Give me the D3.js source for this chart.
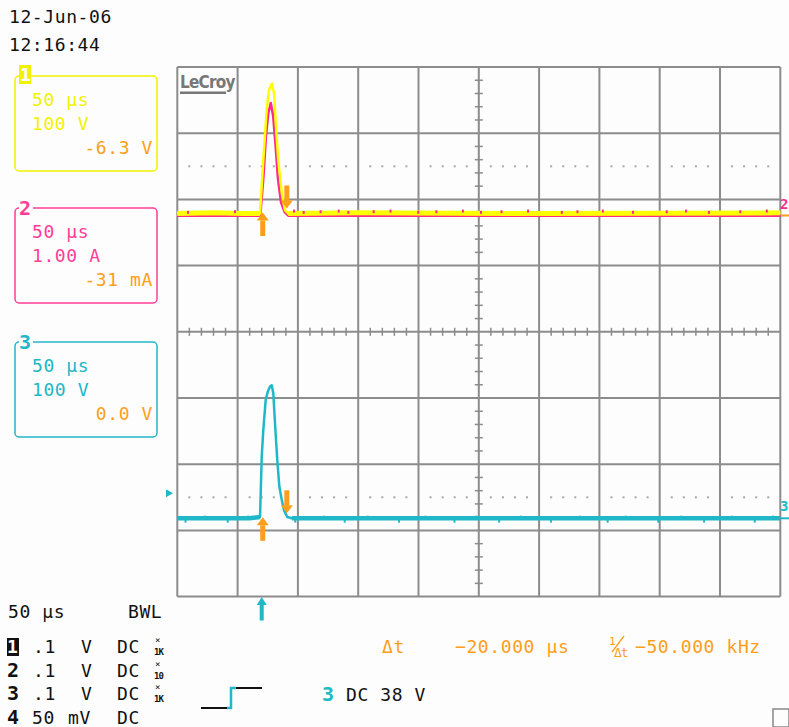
<!DOCTYPE html>
<html>
<head>
<meta charset="utf-8">
<script src="https://cdn.jsdelivr.net/npm/d3@7"></script>
<style>
  body { margin: 0; background: #fdfdfd; }
  svg { display: block; }
  text { font-family: "DejaVu Sans Mono", monospace; font-size: 18px; letter-spacing: 0.6px; }
</style>
</head>
<body>
<script>
// ---- data ----
// time in microseconds, ch1/ch3 in volts, ch2 in amps
const ch1Trace = [[0, 0], [30, 1], [55, 0], [68.6, 0], [71.3, 81], [74.1, 156], [76.0, 187], [78.3, 196],
  [80.2, 182], [81.8, 131], [83.7, 81], [86.6, 31], [89.3, 5], [92.0, 0], [150, 1], [300, 0], [500, 1]];
const ch2Trace = [[0, 0], [68.8, 0], [71.5, 0.6], [73.5, 1.2], [75.5, 1.55], [77.5, 1.7], [79.5, 1.5],
  [81.5, 1.05], [83.5, 0.55], [86, 0.2], [89, 0.05], [92, 0], [500, 0]];
const ch3Trace = [[0, 0], [60, 0], [68.6, 2], [70, 93], [71.3, 133], [73.3, 179], [75, 191], [76.9, 199],
  [78.3, 201], [79.6, 189], [81, 144], [82.9, 88], [84.6, 48], [86.6, 28], [88.5, 12], [91.2, 2], [95, 0], [500, 0]];
// little noise specks seen along the flat parts
const ch2Specks = [8, 47, 96, 104, 118, 133, 141, 162, 176, 199, 214, 236, 251, 268, 290, 318, 331, 352, 377, 405, 421, 440, 466, 488];
const ch3Specks = [6, 22, 41, 58, 97, 121, 138, 157, 183, 205, 229, 247, 266, 284, 309, 333, 356, 371, 398, 417, 436, 459, 478, 493];
const pulseWindow = [69, 91.5];
const cursorTimes = [70, 90];
const triggerTime = 70;
const triggerLevel = 38;

const channelBoxes = [
  { label: "1", color: "#f2f200", lines: ["50 μs", "100 V"], offset: "-6.3 V" },
  { label: "2", color: "#ff3d96", lines: ["50 μs", "1.00 A"], offset: "-31 mA" },
  { label: "3", color: "#22b6c6", lines: ["50 μs", "100 V"], offset: "0.0 V" }
];
const setupRows = [
  { ch: "1", val: ".1", unit: "V", cpl: "DC", probe: "1K" },
  { ch: "2", val: ".1", unit: "V", cpl: "DC", probe: "10" },
  { ch: "3", val: ".1", unit: "V", cpl: "DC", probe: "1K" },
  { ch: "4", val: "50", unit: "mV", cpl: "DC", probe: "" }
];

const W = 789, H = 727;
const YELLOW = "#ffff00", PINK = "#ff2a8a", CYAN = "#20b8c8", ORANGE = "#ff9e1b", GRID = "#8c8c8c";

const svg = d3.select("body").append("svg").attr("width", W).attr("height", H);

// screen scales
const gx = d3.scaleLinear().domain([0, 10]).range([177.3, 780.3]);
const gy = d3.scaleLinear().domain([0, 8]).range([67, 596.6]);
const x = d3.scaleLinear().domain([0, 500]).range([177.3, 780.3]);
const y1 = d3.scaleLinear().domain([0, 100]).range([213.5, 147.3]);
const y2 = d3.scaleLinear().domain([0, 1]).range([215.5, 149.3]);
const y3 = d3.scaleLinear().domain([0, 100]).range([518.3, 452.1]);

// grid
const grid = svg.append("g").attr("stroke", GRID).attr("stroke-width", 2);
grid.selectAll("line.v").data(d3.range(0, 11)).enter().append("line")
  .attr("x1", d => gx(d)).attr("x2", d => gx(d)).attr("y1", gy(0)).attr("y2", gy(8));
grid.selectAll("line.h").data(d3.range(0, 9)).enter().append("line")
  .attr("y1", d => gy(d)).attr("y2", d => gy(d)).attr("x1", gx(0)).attr("x2", gx(10));

// center cross minor ticks
const minorX = d3.range(0, 50).map(i => i * 0.2).filter(d => Math.abs(d - Math.round(d)) > 0.01);
const minorY = d3.range(0, 40).map(i => i * 0.2).filter(d => Math.abs(d - Math.round(d)) > 0.01);
grid.selectAll("line.tx").data(minorX).enter().append("line").attr("stroke-width", 1.5)
  .attr("x1", d => gx(d)).attr("x2", d => gx(d)).attr("y1", gy(4) - 4).attr("y2", gy(4) + 4);
grid.selectAll("line.ty").data(minorY).enter().append("line").attr("stroke-width", 1.5)
  .attr("y1", d => gy(d)).attr("y2", d => gy(d)).attr("x1", gx(5) - 4).attr("x2", gx(5) + 4);

// dotted rows
[1.5, 6.5].forEach(r => {
  svg.append("g").selectAll("rect").data(minorX).enter().append("rect")
    .attr("x", d => gx(d) - 1).attr("y", gy(r) - 1).attr("width", 2).attr("height", 2).attr("fill", "#a8a8a8");
});

// LeCroy logo
svg.append("text").attr("x", 180).attr("y", 88).attr("fill", "#777")
  .style("font-family", "'DejaVu Sans Condensed', sans-serif").style("font-weight", "bold")
  .style("font-size", "17px").style("letter-spacing", "-0.8px").text("LeCroy");
svg.append("rect").attr("x", 180).attr("y", 91.5).attr("width", 46).attr("height", 2.5).attr("fill", "#777");

// traces: thin line for the pulse, a thicker band where the noisy baseline sits
const lineOf = ys => d3.line().x(d => x(d[0])).y(d => ys(d[1]));
const flat = tr => [tr.filter(d => d[0] <= pulseWindow[0]), tr.filter(d => d[0] >= pulseWindow[1])];
function drawTrace(tr, ys, color, thin, thick) {
  svg.append("path").datum(tr).attr("d", lineOf(ys)).attr("fill", "none")
    .attr("stroke", color).attr("stroke-width", thin).attr("stroke-linejoin", "round");
  flat(tr).forEach(seg => {
    svg.append("path").datum(seg).attr("d", lineOf(ys)).attr("fill", "none")
      .attr("stroke", color).attr("stroke-width", thick);
  });
}
drawTrace(ch2Trace, y2, PINK, 2.5, 3);
drawTrace(ch1Trace, y1, YELLOW, 2.5, 5);
svg.append("g").selectAll("rect").data(ch2Specks).enter().append("rect")
  .attr("x", d => x(d)).attr("y", (d, i) => y2(0.07 + (i % 3) * 0.01)).attr("width", 2).attr("height", 3).attr("fill", PINK);
drawTrace(ch3Trace, y3, CYAN, 2.5, 4.5);
svg.append("g").selectAll("rect").data(ch3Specks).enter().append("rect")
  .attr("x", d => x(d)).attr("y", (d, i) => y3(i % 2 ? 4 : -2)).attr("width", 2).attr("height", 3).attr("fill", CYAN);

// arrows
function arrow(cx, tipY, dir, color, shaft, headW) {
  // dir = -1 up arrow (tip on top), +1 down arrow (tip at bottom)
  const len = 23, head = 8;
  const tail = tipY - dir * len;
  const g = svg.append("g").attr("fill", color);
  g.append("rect").attr("x", cx - shaft / 2).attr("width", shaft)
    .attr("y", Math.min(tail, tipY - dir * head)).attr("height", len - head + 0.5);
  g.append("path").attr("d", `M${cx - headW / 2},${tipY - dir * head} L${cx + headW / 2},${tipY - dir * head} L${cx},${tipY} Z`);
}
[y1, y3].forEach(ys => {
  arrow(x(cursorTimes[0]) + 1, ys(0) - 1, -1, ORANGE, 5, 12);
  arrow(x(cursorTimes[1]) + 1, ys(0) - 5, 1, ORANGE, 5, 12);
});
arrow(x(triggerTime), 597, -1, CYAN, 4, 10);

// trigger level marker (left) and channel markers (right)
const ty = y3(triggerLevel);
svg.append("path").attr("d", `M166,${ty - 4} L173,${ty} L166,${ty + 4} Z`).attr("fill", CYAN);
svg.append("text").attr("x", 780).attr("y", y2(0) - 7).attr("fill", PINK).style("font-weight", "bold").style("font-size", "14px").text("2");
svg.append("line").attr("x1", 781).attr("x2", 789).attr("y1", y2(0)).attr("y2", y2(0)).attr("stroke", ORANGE).attr("stroke-width", 2);
svg.append("text").attr("x", 780).attr("y", y3(0) - 7).attr("fill", CYAN).style("font-weight", "bold").style("font-size", "14px").text("3");
svg.append("line").attr("x1", 781).attr("x2", 789).attr("y1", y3(0)).attr("y2", y3(0)).attr("stroke", CYAN).attr("stroke-width", 2);

// date / time
svg.append("text").attr("x", 9).attr("y", 23).attr("fill", "#111").text("12-Jun-06");
svg.append("text").attr("x", 9).attr("y", 51).attr("fill", "#111").text("12:16:44");

// channel boxes
const boxTops = [76, 208, 342];
channelBoxes.forEach((b, i) => {
  const top = boxTops[i];
  const g = svg.append("g");
  g.append("rect").attr("x", 15).attr("y", top).attr("width", 142).attr("height", 95)
    .attr("rx", 4).attr("fill", "none").attr("stroke", b.color).attr("stroke-width", 1.5);
  if (i === 0) {
    g.append("rect").attr("x", 19).attr("y", top - 11).attr("width", 12).attr("height", 19).attr("fill", b.color);
    g.append("text").attr("x", 20).attr("y", top + 5).attr("fill", "#fdfdfd").style("font-weight", "bold").text(b.label);
  } else {
    g.append("rect").attr("x", 19).attr("y", top - 4).attr("width", 14).attr("height", 8).attr("fill", "#fdfdfd");
    g.append("text").attr("x", 19).attr("y", top + 7).attr("fill", b.color)
      .style("font-weight", "bold").style("font-size", "20px").text(b.label);
  }
  b.lines.forEach((t, j) => {
    g.append("text").attr("x", 32).attr("y", top + 30 + j * 24).attr("fill", b.color).text(t);
  });
  g.append("text").attr("x", 153).attr("y", top + 78).attr("text-anchor", "end").attr("fill", ORANGE).text(b.offset);
});

// bottom-left setup
svg.append("text").attr("x", 8).attr("y", 618).attr("fill", "#111").text("50 μs");
svg.append("text").attr("x", 128).attr("y", 618).attr("fill", "#111").text("BWL");
setupRows.forEach((r, i) => {
  const by = 653 + i * 23.5;
  if (i === 0) {
    svg.append("rect").attr("x", 7).attr("y", by - 15).attr("width", 12).attr("height", 18).attr("fill", "#111");
    svg.append("text").attr("x", 7).attr("y", by).attr("fill", "#fdfdfd").style("font-weight", "bold").text(r.ch);
  } else {
    svg.append("text").attr("x", 7).attr("y", by).attr("fill", "#111").style("font-weight", "bold")
      .style("font-size", "20px").text(r.ch);
  }
  svg.append("text").attr("x", i === 3 ? 32 : 33).attr("y", by).attr("fill", "#111").text(r.val);
  svg.append("text").attr("x", i === 3 ? 68 : 81).attr("y", by).attr("fill", "#111").text(r.unit);
  svg.append("text").attr("x", 117).attr("y", by).attr("fill", "#111").text(r.cpl);
  if (r.probe) {
    svg.append("text").attr("x", 155).attr("y", by - 10).attr("fill", "#111").style("font-size", "9px").text("×");
    svg.append("text").attr("x", 154).attr("y", by + 2).attr("fill", "#111").style("font-size", "9px")
      .style("font-weight", "bold").style("letter-spacing", "-1px").text(r.probe);
  }
});

// trigger step symbol
svg.append("path").attr("d", "M201,708 L227,708").attr("stroke", "#111").attr("stroke-width", 2);
svg.append("path").attr("d", "M227,708 L231,708 L231,688 L236,688").attr("fill", "none").attr("stroke", CYAN).attr("stroke-width", 2.5);
svg.append("path").attr("d", "M236,688 L262,688").attr("stroke", "#111").attr("stroke-width", 2);
svg.append("text").attr("x", 322).attr("y", 701).attr("fill", CYAN).style("font-weight", "bold").style("font-size", "20px").text("3");
svg.append("text").attr("x", 346).attr("y", 701).attr("fill", "#111").text("DC 38 V");

// cursor readout
const dt = cursorTimes[0] - cursorTimes[1];
svg.append("text").attr("x", 382).attr("y", 653).attr("fill", ORANGE).text("Δt");
svg.append("text").attr("x", 455).attr("y", 653).attr("fill", ORANGE).text(d3.format(".3f")(dt) + " μs");
svg.append("text").attr("x", 609).attr("y", 645).attr("fill", ORANGE).style("font-size", "11px").text("1");
svg.append("line").attr("x1", 612).attr("x2", 624).attr("y1", 652).attr("y2", 636).attr("stroke", ORANGE).attr("stroke-width", 1.3);
svg.append("text").attr("x", 614).attr("y", 657).attr("fill", ORANGE).style("font-size", "13px").style("letter-spacing", "-1px").text("Δt");
svg.append("text").attr("x", 635).attr("y", 653).attr("fill", ORANGE).text(d3.format(".3f")(1000 / dt) + " kHz");

// small box bottom right
svg.append("rect").attr("x", 773).attr("y", 709).attr("width", 16).attr("height", 18)
  .attr("fill", "none").attr("stroke", "#888").attr("stroke-width", 1.5);
</script>
</body>
</html>
